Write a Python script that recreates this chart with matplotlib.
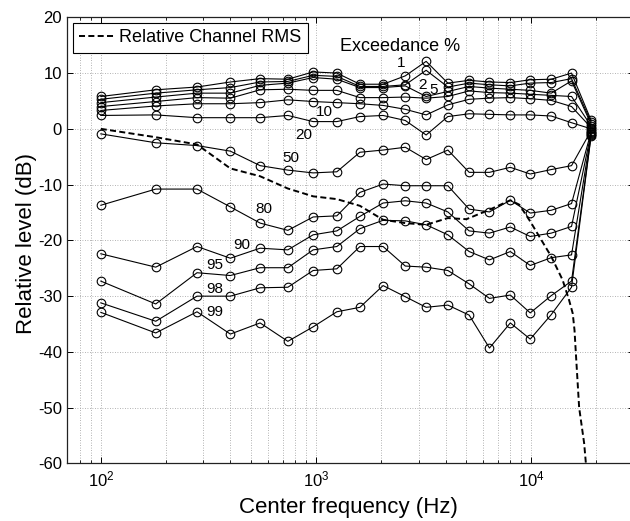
import matplotlib
matplotlib.use('Agg')
import matplotlib.pyplot as plt
from matplotlib.ticker import LogLocator, MultipleLocator, NullFormatter

plt.rcParams['font.family'] = ['Liberation Sans', 'DejaVu Sans']
plt.rcParams['mathtext.fontset'] = 'custom'
plt.rcParams['mathtext.rm'] = 'Liberation Sans'
plt.rcParams['mathtext.it'] = 'Liberation Sans:italic'
plt.rcParams['axes.unicode_minus'] = False

# ---------------- data ----------------
freqs = [100, 180, 280, 400, 550, 740, 970, 1250, 1600, 2050,
         2600, 3250, 4100, 5150, 6400, 8000, 9900, 12400, 15400, 19000]

curve_a = [5.8, 7.0, 7.5, 8.4, 9.0, 8.9, 10.2, 10.0, 8.0, 8.0,
           9.5, 12.1, 8.2, 8.7, 8.4, 8.3, 8.8, 8.9, 10.0, 1.5]
curve_b = [5.3, 6.4, 7.0, 7.4, 8.4, 8.5, 9.6, 9.4, 7.6, 7.6,
           7.9, 10.5, 7.5, 8.2, 7.9, 7.7, 8.2, 8.3, 9.0, 1.2]
curve_c = [4.7, 5.7, 6.4, 6.4, 7.8, 8.2, 9.2, 8.9, 7.4, 7.4,
           7.7, 5.8, 6.7, 7.6, 7.3, 7.1, 6.9, 6.4, 8.6, 0.8]
curve_d = [4.0, 4.9, 5.6, 5.5, 7.0, 7.1, 6.9, 6.9, 5.6, 5.6,
           5.7, 5.5, 5.8, 6.8, 6.5, 6.4, 6.2, 6.0, 5.8, 0.5]
curve_e = [3.3, 4.1, 4.5, 4.5, 4.7, 5.2, 4.9, 4.7, 4.5, 4.2,
           3.5, 2.5, 4.3, 5.3, 5.5, 5.6, 5.4, 5.1, 4.0, 0.2]
curve_f = [2.4, 2.5, 2.0, 2.0, 2.0, 2.4, 1.3, 1.3, 2.2, 2.4,
           1.5, -1.1, 2.2, 2.7, 2.6, 2.5, 2.5, 2.3, 1.1, 0.0]
curve_50 = [-0.9, -2.5, -3.0, -4.0, -6.6, -7.4, -7.9, -7.7, -4.2, -3.8,
            -3.3, -5.5, -3.8, -7.8, -7.8, -6.9, -8.1, -7.3, -6.6, -0.3]
curve_80 = [-13.7, -10.8, -10.8, -14.0, -16.9, -18.2, -15.8, -15.6, -11.4, -9.9,
            -10.2, -10.2, -10.2, -14.4, -14.9, -12.8, -15.1, -14.6, -13.4, -0.5]
curve_90 = [-22.4, -24.8, -21.1, -23.2, -21.4, -21.7, -19.0, -18.3, -15.7, -13.3,
            -12.9, -13.3, -14.9, -18.3, -18.7, -17.6, -19.3, -18.7, -17.5, -0.7]
curve_95 = [-27.3, -31.4, -25.8, -26.3, -24.9, -24.9, -21.7, -21.1, -17.9, -16.4,
            -16.5, -17.2, -19.0, -22.0, -23.5, -22.0, -24.5, -23.1, -22.6, -0.9]
curve_98 = [-31.2, -34.5, -30.0, -30.0, -28.5, -28.4, -25.4, -25.1, -21.1, -21.1,
            -24.6, -24.8, -25.4, -27.8, -30.4, -29.8, -33.0, -29.9, -27.3, -1.1]
curve_99 = [-32.9, -36.6, -32.8, -36.8, -34.8, -38.1, -35.5, -32.8, -32.0, -28.1,
            -30.1, -32.0, -31.6, -33.4, -39.3, -34.8, -37.7, -33.3, -28.4, -1.2]

rms_freqs = [100, 180, 280, 400, 550, 740, 970, 1250, 1600, 2050, 2600, 3250,
             4100, 5000, 6400, 8000, 8810, 9900, 10900, 12400, 14000, 15000,
             15600, 15900, 16100, 16410, 16710, 17630, 17960, 18300]
rms_db = [0.0, -1.5, -2.8, -7.1, -8.5, -10.7, -12.1, -12.6, -13.8, -16.3, -16.9, -17.2,
          -16.0, -16.2, -14.5, -12.8, -13.6, -16.6, -19.3, -22.9, -27.1, -30.7,
          -33.1, -36.1, -39.7, -45.0, -50.0, -56.4, -60.0, -64.0]

curve_labels = ['1', '2', '5', '10', '20', '50', '80', '90', '95', '98', '99']
label_freqs = [2490, 3120, 3528, 1099, 881, 764, 574, 451, 340, 340, 340]
label_db = [11.75, 7.86, 6.97, 3.07, -1.1, -5.28, -14.4, -20.8, -24.5, -28.8, -32.9]

y_ticks = [-60, -50, -40, -30, -20, -10, 0, 10, 20]

# ---------------- figure ----------------
fig = plt.figure(figsize=(6.3, 5.21), dpi=100)
ax = fig.add_axes([0.1071, 0.1104, 0.899, 0.8564])

all_curves = [curve_a, curve_b, curve_c, curve_d, curve_e, curve_f,
              curve_50, curve_80, curve_90, curve_95, curve_98, curve_99]
for vals in all_curves:
    ax.plot(freqs, vals, '-o', color='black', lw=0.8, ms=6.2,
            mfc='none', mec='black', mew=0.8)

ax.plot(rms_freqs, rms_db, color='black', lw=1.4, ls=(0, (3.1, 1.7)),
        label='Relative Channel RMS')

ax.set_xscale('log')
ax.set_xlim(70, 30000)
ax.set_ylim(-60, 20)
ax.set_yticks(y_ticks)
ax.xaxis.set_major_locator(LogLocator(base=10, numticks=10))
ax.xaxis.set_minor_locator(LogLocator(base=10, subs=range(2, 10), numticks=30))
ax.xaxis.set_minor_formatter(NullFormatter())

grid_kw = dict(color='#9a9a9a', linestyle=(0, (1, 2)), linewidth=0.6)
ax.grid(True, which='major', axis='both', **grid_kw)
ax.grid(True, which='minor', axis='x', **grid_kw)
ax.set_axisbelow(True)

ax.tick_params(which='major', direction='in', length=4, width=0.7,
               top=True, right=True, labelsize=12, pad=4)
ax.tick_params(which='minor', direction='in', length=2, width=0.6,
               top=True, right=True)
for sp in ax.spines.values():
    sp.set_linewidth(0.9)
    sp.set_color('#222222')

for lab, f, d in zip(curve_labels, label_freqs, label_db):
    ax.text(f, d, lab, fontsize=11, ha='center', va='center')

ax.text(2446, 14.7, 'Exceedance %', fontsize=13, ha='center', va='center')

leg = ax.legend(loc='upper left', bbox_to_anchor=(0.0097, 0.987), borderaxespad=0,
                fancybox=False, edgecolor='black', framealpha=1, fontsize=13,
                handlelength=1.9, handletextpad=0.3, borderpad=0.35)
leg.get_frame().set_linewidth(0.8)

fig.text(27 / 630, 1 - 243 / 521, 'Relative level (dB)', rotation=90,
         ha='center', va='center', fontsize=16)
fig.text(348 / 630, 1 - 507 / 521, 'Center frequency (Hz)',
         ha='center', va='center', fontsize=16)

fig.savefig('out.png', dpi=100)
